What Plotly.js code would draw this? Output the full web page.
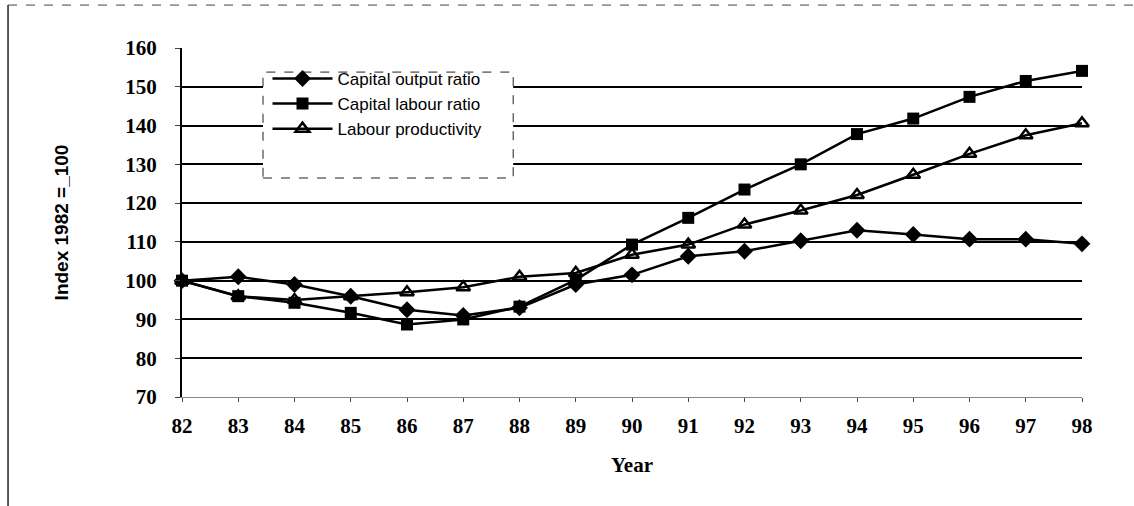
<!DOCTYPE html>
<html>
<head>
<meta charset="utf-8">
<script src="https://cdn.plot.ly/plotly-3.0.1.min.js"></script>
<style>
  html, body { margin: 0; padding: 0; background: #fff; }
  #chart { width: 1134px; height: 506px; }
</style>
</head>
<body>
<div id="chart"></div>
<script>
// ---- data ----
const years = [82, 83, 84, 85, 86, 87, 88, 89, 90, 91, 92, 93, 94, 95, 96, 97, 98];
const yearLabels = ["82","83","84","85","86","87","88","89","90","91","92","93","94","95","96","97","98"];
const capitalOutputRatio = [100, 101, 99, 96, 92.5, 91, 93, 99, 101.5, 106.3, 107.6, 110.3, 113, 111.9, 110.7, 110.7, 109.5];
const capitalLabourRatio = [100, 96, 94.3, 91.7, 88.7, 90, 93.3, 100.2, 109.3, 116.2, 123.5, 130, 137.8, 141.8, 147.4, 151.5, 154.1];
const labourProductivity = [100, 96, 95, 96, 97, 98.3, 101, 102, 106.7, 109.3, 114.5, 118.1, 122.1, 127.3, 132.7, 137.5, 140.6];
const yTicks = [70, 80, 90, 100, 110, 120, 130, 140, 150, 160];
const seriesNames = ["Capital output ratio", "Capital labour ratio", "Labour productivity"];

const lineStyle = { color: '#000', width: 2.5 };
const traces = [
  { x: years, y: capitalOutputRatio, name: seriesNames[0], type: 'scatter', mode: 'lines+markers', cliponaxis: false,
    line: lineStyle, marker: { symbol: 'diamond', size: 13, color: '#000' } },
  { x: years, y: capitalLabourRatio, name: seriesNames[1], type: 'scatter', mode: 'lines+markers', cliponaxis: false,
    line: lineStyle, marker: { symbol: 'square', size: 12, color: '#000' } },
  { x: years, y: labourProductivity, name: seriesNames[2], type: 'scatter', mode: 'lines+markers', cliponaxis: false,
    line: lineStyle, marker: { symbol: 'triangle-up-open', size: 12, color: '#000', line: { width: 2.5, color: '#000' } } }
];

const serifBold = { family: '"Liberation Serif", "DejaVu Serif", serif', size: 21, color: '#000', weight: 'bold' };

const layout = {
  width: 1134, height: 506,
  margin: { l: 182, r: 52, t: 48, b: 109, pad: 0 },
  paper_bgcolor: '#fff', plot_bgcolor: '#fff',
  showlegend: true,
  legend: {
    x: 0.095, y: 0.963, xanchor: 'left', yanchor: 'top',
    bgcolor: 'rgba(0,0,0,0)', borderwidth: 0,
    font: { family: '"Liberation Sans", Arial, sans-serif', size: 17, color: '#000' },
    itemwidth: 60, tracegroupgap: 0
  },
  xaxis: {
    range: [82, 98], tickvals: years, ticktext: yearLabels,
    showgrid: false, zeroline: false,
    showline: true, linecolor: '#888', linewidth: 1,
    ticks: 'outside', ticklen: 4, tickcolor: '#444', tickwidth: 1,
    ticklabelstandoff: 6,
    tickfont: serifBold,
    title: { text: 'Year', font: { family: '"Liberation Serif", "DejaVu Serif", serif', size: 21, color: '#000', weight: 'bold' }, standoff: 20 },
    automargin: false, fixedrange: true
  },
  yaxis: {
    range: [70, 160], tickvals: yTicks,
    showgrid: true, gridcolor: '#000', gridwidth: 2, zeroline: false,
    showline: true, linecolor: '#000', linewidth: 2,
    ticks: 'outside', ticklen: 5, tickcolor: '#444', tickwidth: 1,
    ticklabelstandoff: 14,
    tickfont: serifBold,
    title: { text: 'Index 1982 =_100', font: { family: '"Liberation Sans", Arial, sans-serif', size: 19, color: '#000', weight: 'bold' }, standoff: 52 },
    automargin: false, fixedrange: true
  },
  shapes: [
    // legend box
    { type: 'rect', xref: 'paper', yref: 'paper', x0: 0.09, x1: 0.368, y0: 0.6275, y1: 0.931,
      line: { color: '#222', width: 1, dash: 'dash' }, fillcolor: '#fff', layer: 'above' },
    // page frame (left and top)
    { type: 'line', xref: 'paper', yref: 'paper', x0: -0.1933, x1: -0.1933, y0: 1.123, y1: -0.32,
      line: { color: '#222', width: 1.5 } },
    { type: 'line', xref: 'paper', yref: 'paper', x0: -0.1933, x1: 1.06, y0: 1.123, y1: 1.123,
      line: { color: '#444', width: 1, dash: 'dash' } }
  ]
};

Plotly.newPlot('chart', traces, layout, { displayModeBar: false, staticPlot: true });
</script>
</body>
</html>
